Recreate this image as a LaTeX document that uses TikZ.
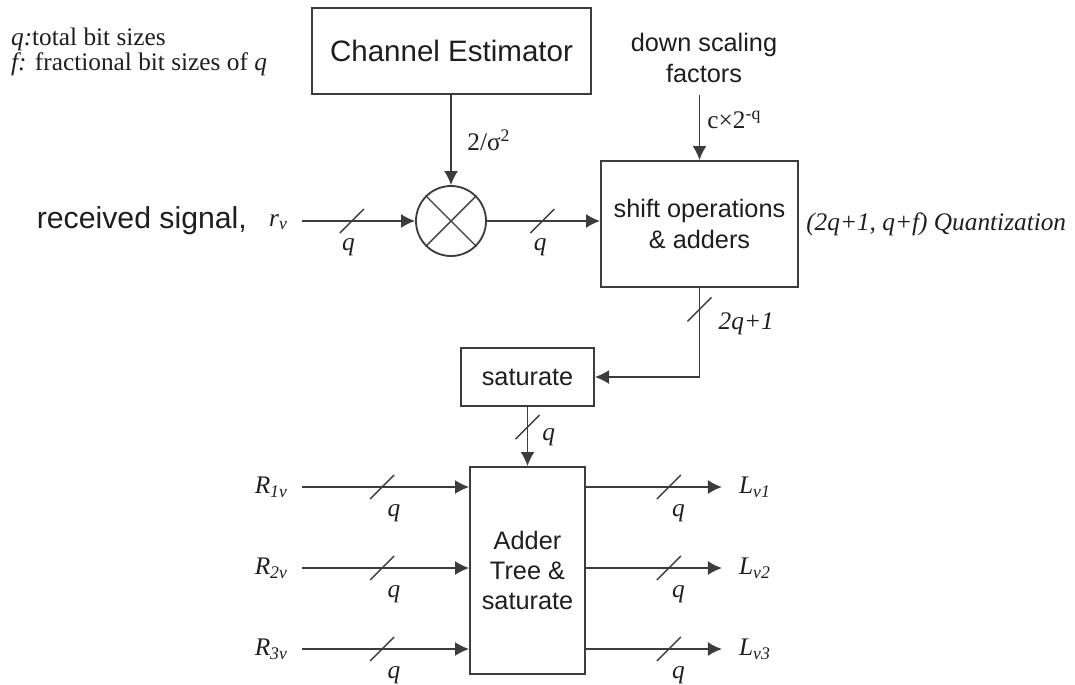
\documentclass[tikz,border=0pt]{standalone}
\usepackage{fontspec}
\setmainfont{Liberation Serif}
\setsansfont{Liberation Sans}
\usetikzlibrary{arrows.meta,positioning}

\definecolor{wiregray}{RGB}{60,60,60}
\definecolor{inkgray}{RGB}{30,30,30}

\newcommand\sublbl[2]{\textit{#1}\textsubscript{\textit{#2}}}

\begin{document}
\begin{tikzpicture}[x=0.025cm, y=-0.025cm, text=inkgray,
  font=\fontsize{18}{18}\selectfont,
  block/.style={draw=wiregray, line width=1.3pt, inner sep=0pt, align=center,
    font=\sffamily\fontsize{18}{21.5}\selectfont},
  sflbl/.style={inner sep=2pt, align=center, font=\sffamily\fontsize{18}{21.5}\selectfont},
  lbl/.style={inner sep=2pt},
  qlab/.style={below=12pt, inner sep=0pt},
  sig/.style={draw=wiregray, line width=1.3pt, -{Latex[length=10pt,width=10pt]}},
  busmark/.pic={\draw[-, wiregray, line width=1pt] (-12,12) -- (12,-12);}
]
\useasboundingbox (0,0) rectangle (1075,684);

% legend
\node[lbl, anchor=base west] (leg1) at (8,45) {\textit{q:}total bit sizes};
\node[lbl, anchor=base west] (leg2) at (8,70) {\textit{f:} fractional bit sizes of \textit{q}};

% blocks
\node[block, minimum width=6.975cm, minimum height=2.15cm,
  font=\sffamily\fontsize{21}{21}\selectfont] (chest) at (451.5,51) {Channel Estimator};
\node[draw=wiregray, line width=1.3pt, circle, minimum size=1.75cm, inner sep=0pt] (mult) at (451,221) {};
\draw[wiregray, line width=1pt] (mult.north west) -- (mult.south east)
  (mult.north east) -- (mult.south west);
\node[block, minimum width=4.925cm, minimum height=3.15cm] (shift) at (699.5,224) {shift operations\\\& adders};
\node[block, minimum width=3.325cm, minimum height=1.45cm] (sat) at (527.5,377) {saturate};
\node[block, minimum width=2.875cm, minimum height=5.175cm] (adder) at (527.5,570.5) {Adder\\Tree \&\\saturate};

% input side
\node[lbl, anchor=east, font=\sffamily\fontsize{21.5}{21.5}\selectfont] (recv) at (250,221) {received signal,};
\node[lbl, anchor=base west] (rv) at (266,226) {\sublbl{r}{v}};
\coordinate (rvin) at (302,221);
\draw[sig] (rvin) -- pic[pos=.44]{busmark} node[pos=.41, qlab] {\textit{q}} (mult);
\draw[sig] (chest.south -| mult) -- node[right=9pt, lbl] {2/σ\textsuperscript{2}} (mult);
\draw[sig] (mult.east) -- pic[pos=.49]{busmark} node[pos=.47, qlab] {\textit{q}} (mult.east -| shift.west);

% scaling factors
\node[sflbl] (scal) at (704,58) {down scaling\\factors};
\coordinate (scalin) at (699.5,95);
\draw[sig] (scalin) -- node[pos=.38, right=3pt, lbl] {c×2\textsuperscript{-q}} (shift);
\node[lbl, right=3pt of shift] (quant) {\textit{(2q+1, q+f) Quantization}};

% to saturate and adder tree
\draw[sig] (shift.south) |- pic[pos=.12]{busmark} node[pos=.2, right=11pt, lbl] {\textit{2q+1}} (sat);
\draw[sig] (sat) -- pic[pos=.34]{busmark} node[pos=.52, right=8pt, lbl] {\textit{q}} (adder);

\foreach \i/\yy in {1/487,2/568,3/649} {
  \coordinate (rin\i) at (302,\yy);
  \coordinate (lout\i) at (722,\yy);
  \node[lbl, anchor=east] (r\i) at ([xshift=-8pt]rin\i) {\sublbl{R}{\i v}};
  \node[lbl, anchor=west] (l\i) at ([xshift=10pt]lout\i) {\sublbl{L}{v\i}};
  \draw[sig] (rin\i) -- pic[pos=.48]{busmark} node[pos=.55, qlab] {\textit{q}} (rin\i -| adder.west);
  \draw[sig] (rin\i -| adder.east) -- pic[pos=.61]{busmark} node[pos=.68, qlab] {\textit{q}} (lout\i);
}
\end{tikzpicture}
\end{document}
